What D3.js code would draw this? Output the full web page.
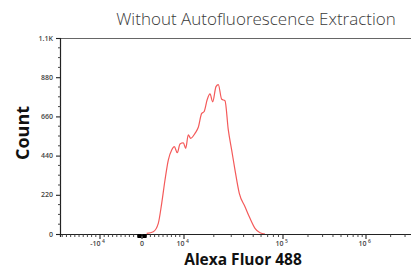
<!DOCTYPE html>
<html>
<head>
<meta charset="utf-8">
<script src="https://cdn.jsdelivr.net/npm/d3@7"></script>
<style>
  body { margin: 0; background: #fff; }
  svg { display: block; }
</style>
</head>
<body>
<div id="chart"></div>
<script>
// histogram of Alexa Fluor 488
let fluor = [1119, 2690, 3881, 4690, 5476, 6262, 7071, 7690, 8405, 9048, 9833,
  10404, 11051, 11688, 12916, 13947, 15094, 15922, 17195, 18307, 19495, 21049,
  22210, 24030, 25950, 28020, 30320, 32750, 36190, 41330, 46420, 52140, 58590, 65810];
let counts = [4, 13, 60, 172, 303, 415, 471, 490, 456, 505, 512,
  481, 556, 537, 565, 599, 677, 686, 756, 786, 742, 827,
  838, 756, 748, 584, 471, 359, 228, 153, 88, 32, 7, 0];

let yTicks = [0, 220, 440, 660, 880, 1100];
let yTickLabels = ["0", "220", "440", "660", "880", "1.1K"];
let xMajor = [-10000, 0, 10000, 100000, 1000000];
let xMajorBase = ["-10", "0", "10", "10", "10"];
let xMajorExp = ["4", "", "4", "5", "6"];

let svgWidth = 411, svgHeight = 269;
let margin = { top: 38, left: 61, bottom: 35 };
let plotBottom = svgHeight - margin.bottom;

let svg = d3.select("#chart").append("svg")
  .attr("width", svgWidth)
  .attr("height", svgHeight);

// biexponential-like display: linear around zero, log above 10^4
function pos(v) {
  if (v >= 10000) return Math.log10(v);
  return 3 + v / 10000;
}
let xLin = d3.scaleLinear()
  .domain([1.07, 2, 3, 4, 5, 6, 6.55])
  .range([61, 100, 142, 184, 283, 366, 411]);
let x = v => xLin(pos(v));

let y = d3.scaleLinear().domain([0, 1100]).range([plotBottom, margin.top]);

// minor ticks
let xMinor = [];
for (let v = -19000; v <= 9000; v += 1000) if (v % 10000 !== 0) xMinor.push(v);
for (let d of [10000, 100000]) for (let k = 2; k <= 9; k++) xMinor.push(k * d);
xMinor.push(2000000, 3000000);
let xNearZero = [-900, -600, -300, 300, 600, 900];
let yMinor = d3.range(55, 1100, 55).filter(v => v % 220 !== 0);

// top frame line
svg.append("line")
  .attr("x1", 61).attr("x2", svgWidth)
  .attr("y1", margin.top + 0.5).attr("y2", margin.top + 0.5)
  .attr("stroke", "#666").attr("stroke-width", 1);

// histogram
let line = d3.line()
  .x((d, i) => x(fluor[i]))
  .y(d => y(d))
  .curve(d3.curveMonotoneX);
svg.append("path")
  .datum(counts)
  .attr("d", line)
  .attr("fill", "none")
  .attr("stroke", "#f45a5a")
  .attr("stroke-width", 1.2);

// x axis
let xAxisG = svg.append("g").attr("transform", `translate(0,${plotBottom})`);
xAxisG.append("line").attr("x1", 58).attr("x2", svgWidth).attr("y1", 0.5).attr("y2", 0.5)
  .attr("stroke", "#222").attr("stroke-width", 1.2);
xAxisG.selectAll(".minor").data(xMinor).enter().append("line")
  .attr("x1", d => x(d)).attr("x2", d => x(d)).attr("y1", 0).attr("y2", 3)
  .attr("stroke", "#333").attr("stroke-width", 0.9);
xAxisG.selectAll(".zero").data(xNearZero).enter().append("line")
  .attr("x1", d => x(d)).attr("x2", d => x(d)).attr("y1", 0).attr("y2", 4)
  .attr("stroke", "#000").attr("stroke-width", 1.6);
xAxisG.append("rect")
  .attr("x", x(-1000)).attr("y", 0.5).attr("width", x(1000) - x(-1000)).attr("height", 1.6)
  .attr("fill", "#000");
xAxisG.selectAll(".major").data(xMajor).enter().append("line")
  .attr("x1", d => x(d)).attr("x2", d => x(d)).attr("y1", 0).attr("y2", 5)
  .attr("stroke", "#222").attr("stroke-width", 1.1);
// tick labels: base right-aligned, exponent placed after it
xAxisG.selectAll(".lab").data(xMajor).enter().append("text")
  .attr("x", (d, i) => x(d) + (xMajorExp[i] ? 0.5 : 0))
  .attr("y", 12)
  .attr("text-anchor", (d, i) => xMajorExp[i] ? "end" : "middle")
  .attr("font-family", "'Open Sans', sans-serif")
  .attr("font-size", "7px")
  .attr("font-weight", 600)
  .attr("fill", "#444")
  .text((d, i) => xMajorBase[i]);
xAxisG.selectAll(".exp").data(xMajor.filter((d, i) => xMajorExp[i])).enter().append("text")
  .attr("x", d => x(d) + 2)
  .attr("y", 8.5)
  .attr("font-family", "'Open Sans', sans-serif")
  .attr("font-size", "5px")
  .attr("font-weight", 600)
  .attr("fill", "#444")
  .text(d => xMajorExp[xMajor.indexOf(d)]);

// y axis
let yAxisG = svg.append("g").attr("transform", `translate(${margin.left},0)`);
yAxisG.append("line").attr("x1", -0.5).attr("x2", -0.5).attr("y1", margin.top).attr("y2", plotBottom + 3)
  .attr("stroke", "#222").attr("stroke-width", 1.2);
yAxisG.selectAll(".minor").data(yMinor).enter().append("line")
  .attr("x1", -3).attr("x2", 0).attr("y1", d => y(d)).attr("y2", d => y(d))
  .attr("stroke", "#333").attr("stroke-width", 0.9);
yAxisG.selectAll(".major").data(yTicks).enter().append("line")
  .attr("x1", -5).attr("x2", 0).attr("y1", d => y(d) + 0.5).attr("y2", d => y(d) + 0.5)
  .attr("stroke", "#222").attr("stroke-width", 1.1);
yAxisG.selectAll(".lab").data(yTicks).enter().append("text")
  .attr("x", -8)
  .attr("y", d => y(d) + 2.5)
  .attr("text-anchor", "end")
  .attr("font-family", "'Open Sans', sans-serif")
  .attr("font-size", "7px")
  .attr("font-weight", 600)
  .attr("fill", "#444")
  .text((d, i) => yTickLabels[i]);

// titles
svg.append("text")
  .attr("x", 256).attr("y", 25)
  .attr("text-anchor", "middle")
  .attr("font-family", "'Open Sans', sans-serif")
  .attr("font-weight", 300)
  .attr("font-size", "17px")
  .attr("fill", "#3a3a3a")
  .text("Without Autofluorescence Extraction");

svg.append("text")
  .attr("x", 243).attr("y", 264.5)
  .attr("text-anchor", "middle")
  .attr("font-family", "'Open Sans', sans-serif")
  .attr("font-weight", 700)
  .attr("font-size", "15.5px")
  .attr("fill", "#111")
  .text("Alexa Fluor 488");

svg.append("text")
  .attr("transform", "translate(29,133) rotate(-90)")
  .attr("text-anchor", "middle")
  .attr("font-family", "'Open Sans', sans-serif")
  .attr("font-weight", 700)
  .attr("font-size", "18px")
  .attr("fill", "#111")
  .text("Count");
</script>
</body>
</html>
